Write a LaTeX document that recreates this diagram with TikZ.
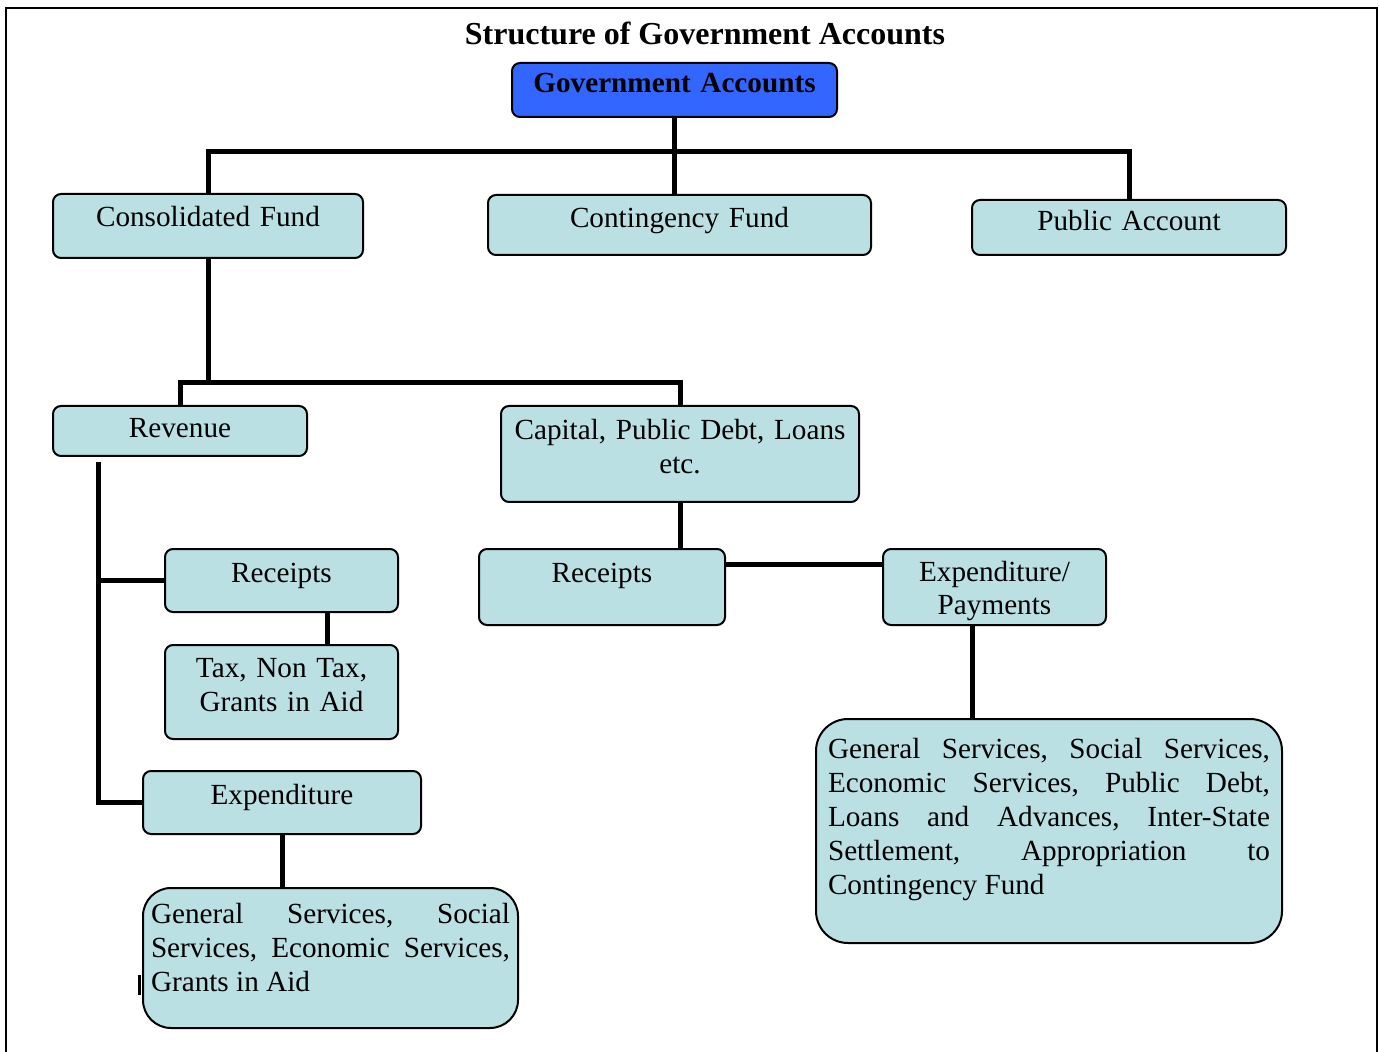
\documentclass[tikz,border=0pt]{standalone}
\usepackage{fontspec}
\setmainfont{Liberation Serif}
\usepackage{xcolor}
\usepackage{tikz}
\usetikzlibrary{positioning}
\definecolor{govblue}{RGB}{51,102,255}
\definecolor{paleteal}{RGB}{186,224,227}
\frenchspacing

\begin{document}
\begin{tikzpicture}[x=0.5pt,y=-0.5pt,
  acct/.style={draw,fill=paleteal,line width=1pt,rounded corners=4pt,
    inner xsep=4pt,inner ysep=0pt,anchor=north west,align=center},
  bigacct/.style={acct,rounded corners=14pt,align=justify},
  link/.style={line width=2.5pt},
  font=\fontsize{14.6}{17}\selectfont]
  \useasboundingbox (0,0) rectangle (1379,1052);
  \draw[line width=0.8pt] (6,1052) -- (6,8) -- (1377,8) -- (1377,1052);

  \node (title) at (705,33) {\fontsize{16}{19}\selectfont\bfseries Structure of Government Accounts};
  \node[acct,fill=govblue,font=\fontsize{14.6}{17}\selectfont\bfseries,
    text width=154.5pt,text height=15pt,text depth=12pt] (gov) at (511,62) {Government Accounts};

  \node[acct,text width=147pt,text height=16.5pt,text depth=15.5pt] (cons) at (52,193) {Consolidated Fund};
  \node[acct,text width=183.5pt,text height=16.5pt,text depth=13.5pt] (cont) at (487,194) {Contingency Fund};
  \node[acct,text width=149pt,text height=15.5pt,text depth=12pt] (pub) at (971,199) {Public Account};

  \node[acct,text width=119pt,text height=16pt,text depth=9pt] (rev) at (52,405) {Revenue};
  \node[acct,text width=171pt,text height=17pt,text depth=31pt] (cap) at (500,405) {Capital, Public Debt, Loans\\etc.};

  \node[acct,text width=108.5pt,text height=16.5pt,text depth=15pt] (revrec) at (164,548) {Receipts};
  \node[acct,text width=108.5pt,text height=16pt,text depth=31pt] (tax) at (164,644) {Tax, Non Tax,\\Grants in Aid};
  \node[acct,text width=131pt,text height=16.5pt,text depth=15pt] (revexp) at (142,770) {Expenditure};
  \node[bigacct,text width=179.5pt,text height=17.5pt,text depth=52.5pt] (revsvc) at (142,887)
    {General Services, Social\linebreak Services, Economic Services,\linebreak Grants in Aid};

  \node[acct,text width=115pt,text height=16.5pt,text depth=21.5pt] (caprec) at (478,548) {Receipts};
  \node[acct,text width=103.5pt,text height=16pt,text depth=22pt] (cappay) at (882,548) {Expenditure/\\Payments};
  \node[bigacct,rounded corners=16pt,inner xsep=6pt,text width=221pt,text height=19.5pt,text depth=92.5pt] (capsvc) at (815,718)
    {General Services, Social Services,\linebreak Economic Services, Public Debt,\linebreak Loans and Advances, Inter-State\linebreak Settlement, Appropriation to\linebreak Contingency Fund};

  \coordinate (topbus) at (675,152);
  \coordinate (fundbus) at (cons.south |- 0,383);
  \coordinate (revspine) at (98,462);

  \draw[link] (gov.south) -- (gov.south |- cont.north);
  \draw[link] (cons.north) |- (topbus) -| (pub.north);
  \draw[link] (cons.south) -- (fundbus);
  \draw[link] (rev.north) |- (fundbus) -| (cap.north);
  \draw[link] (revspine) |- (revexp.west);
  \draw[link] (revspine |- revrec.west) -- (revrec.west);
  \draw[link] ([xshift=22.75pt]revrec.south) -- ([xshift=22.75pt]tax.north);
  \draw[link] (revexp.south) -- (revexp.south |- revsvc.north);
  \draw[link] (cap.south) -- (cap.south |- caprec.north);
  \draw[link] ([yshift=11.5pt]caprec.east) -- ([yshift=11.5pt]caprec.east -| cappay.west);
  \draw[link] ([xshift=-11.25pt]cappay.south) -- ([xshift=-11.25pt]cappay.south |- capsvc.north);
  \draw[line width=1.5pt] ([shift={(-1.5pt,-8.5pt)}]revsvc.west) -- ++(0,20);

\end{tikzpicture}
\end{document}
